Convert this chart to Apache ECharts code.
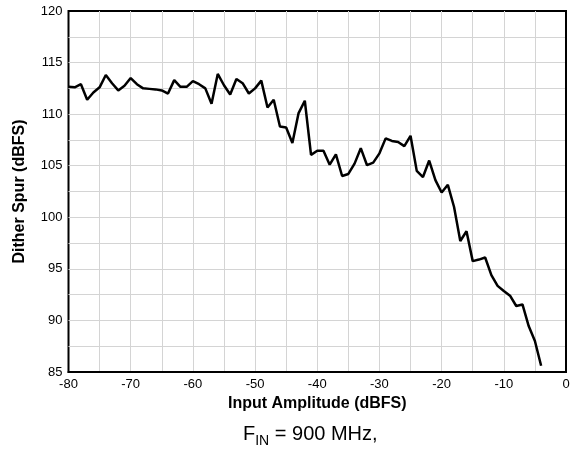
<!DOCTYPE html>
<html>
<head>
<meta charset="utf-8">
<script src="https://cdn.jsdelivr.net/npm/echarts@6/dist/echarts.min.js"></script>
<style>html,body{margin:0;padding:0;background:#fff}#c{width:573px;height:455px}</style>
</head>
<body>
<div id="c"></div>
<script>
const inputAmplitude = [-80,-79,-78,-77,-76,-75,-74,-73,-72,-71,-70,-69,-68,-67,-66,-65,-64,-63,-62,-61,-60,-59,-58,-57,-56,-55,-54,-53,-52,-51,-50,-49,-48,-47,-46,-45,-44,-43,-42,-41,-40,-39,-38,-37,-36,-35,-34,-33,-32,-31,-30,-29,-28,-27,-26,-25,-24,-23,-22,-21,-20,-19,-18,-17,-16,-15,-14,-13,-12,-11,-10,-9,-8,-7,-6,-5,-4];
const ditherSpur = [112.65,112.6,112.9,111.4,112.1,112.6,113.8,113.0,112.3,112.75,113.5,112.9,112.5,112.45,112.4,112.3,112.0,113.3,112.65,112.65,113.2,112.9,112.5,111.0,113.9,112.8,111.9,113.4,113.0,112.0,112.5,113.25,110.65,111.4,108.8,108.7,107.2,110.1,111.3,106.05,106.45,106.45,105.1,106.1,104.0,104.2,105.2,106.7,105.05,105.3,106.2,107.65,107.4,107.3,106.9,107.9,104.5,103.9,105.5,103.6,102.4,103.15,101.0,97.7,98.65,95.75,95.9,96.1,94.4,93.35,92.85,92.4,91.4,91.55,89.45,88.0,85.6];
const xTickLabels = [-80,-70,-60,-50,-40,-30,-20,-10,0];
const yTickLabels = [85,90,95,100,105,110,115,120];

const chart = echarts.init(document.getElementById('c'), null, {renderer:'canvas'});
const font = 'Liberation Sans, Arial, Helvetica, sans-serif';
chart.setOption({
  animation: false,
  backgroundColor: '#fff',
  grid: {left: 68.5, right: 7, top: 11, bottom: 83, show: true, borderColor: '#000', borderWidth: 2, backgroundColor: 'transparent'},
  xAxis: {
    type: 'value', min: -80, max: 0, interval: 5,
    name: 'Input Amplitude (dBFS)', nameLocation: 'middle', nameGap: 22,
    nameTextStyle: {fontFamily: font, fontWeight: 'bold', fontSize: 16, color: '#000'},
    axisLine: {show: true, lineStyle: {color: '#000', width: 2}},
    axisTick: {show: false},
    axisLabel: {fontFamily: font, fontSize: 13, color: '#000', margin: 6,
      formatter: v => xTickLabels.includes(v) ? String(v) : ''},
    splitLine: {show: true, showMinLine: false, showMaxLine: false, lineStyle: {color: '#d4d4d4', width: 1}}
  },
  yAxis: {
    type: 'value', min: 85, max: 120, interval: 2.5,
    name: 'Dither Spur (dBFS)', nameLocation: 'middle', nameGap: 41,
    nameTextStyle: {fontFamily: font, fontWeight: 'bold', fontSize: 16, color: '#000'},
    axisLine: {show: true, lineStyle: {color: '#000', width: 2}},
    axisTick: {show: false},
    axisLabel: {fontFamily: font, fontSize: 13, color: '#000', margin: 6,
      formatter: v => yTickLabels.includes(v) ? String(v) : ''},
    splitLine: {show: true, showMinLine: false, showMaxLine: false, lineStyle: {color: '#d4d4d4', width: 1}}
  },
  graphic: [{
    type: 'text', left: 243, top: 424,
    style: {
      text: '{a|F}{b|IN}{a| = 900 MHz,}',
      fill: '#000',
      rich: {
        a: {fontFamily: font, fontSize: 20, lineHeight: 23, verticalAlign: 'top', fill: '#000'},
        b: {fontFamily: font, fontSize: 14, lineHeight: 14, verticalAlign: 'top', padding: [10,0,0,0], fill: '#000'}
      }
    }
  }],
  series: [{
    type: 'line',
    data: inputAmplitude.map((x, i) => [x, ditherSpur[i]]),
    showSymbol: false, symbol: 'none',
    lineStyle: {color: '#000', width: 2.5},
    z: 5
  }]
});
</script>
</body>
</html>
